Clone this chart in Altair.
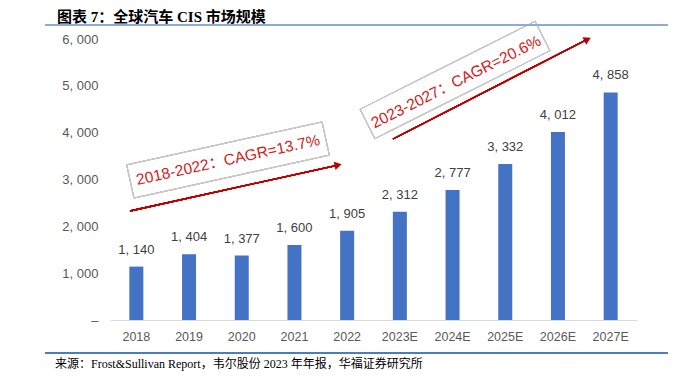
import math
import altair as alt
import pandas as pd

years = ["2018", "2019", "2020", "2021", "2022", "2023E", "2024E", "2025E", "2026E", "2027E"]
values = [1140, 1404, 1377, 1600, 1905, 2312, 2777, 3332, 4012, 4858]
y_ticks = [0, 1000, 2000, 3000, 4000, 5000, 6000]

title_text = "图表 7：全球汽车 CIS 市场规模"
source_text = "来源：Frost&Sullivan Report，韦尔股份 2023 年年报，华福证券研究所"
cagr1 = "2018-2022：CAGR=13.7%"
cagr2 = "2023-2027：CAGR=20.6%"

df = pd.DataFrame({"year": years, "value": values})

W, H = 527, 281
PL, PT = 102, 31
OX, OY = PL + 8, PT + 8  # page position of plot origin
LABEL_FONT = "Liberation Sans, Arial, Noto Sans CJK SC"
SERIF = "Liberation Serif, Noto Sans CJK SC"

base = alt.Chart(df).encode(
    x=alt.X("year:N", sort=years, title=None,
            scale=alt.Scale(paddingInner=0, paddingOuter=0),
            axis=alt.Axis(domain=True, domainColor="#d9d9d9", domainWidth=1, ticks=False,
                          labelAngle=0, labelColor="#595959", labelFontSize=12.5,
                          labelFont=LABEL_FONT, labelPadding=10, grid=False)),
)

bars = base.mark_bar(size=14, color="#4472C4").encode(
    y=alt.Y("value:Q", title=None,
            scale=alt.Scale(domain=[0, 6000], nice=False),
            axis=alt.Axis(values=y_ticks, domain=False, ticks=False, grid=False,
                          labelColor="#595959", labelFontSize=13, labelFont=LABEL_FONT,
                          labelPadding=12,
                          labelExpr="datum.value == 0 ? '–' : replace(format(datum.value, ','), ',', ', ')"))
)

labels = base.transform_calculate(
    lab="replace(format(datum.value, ','), ',', ', ')"
).mark_text(dy=-10, baseline="bottom", fontSize=13, color="#404040", font=LABEL_FONT).encode(
    y=alt.Y("value:Q", scale=alt.Scale(domain=[0, 6000], nice=False)),
    text="lab:N",
)

layers = [bars, labels]


def rule(x1, y1, x2, y2, color, width):
    return alt.Chart(df).mark_rule(color=color, strokeWidth=width).encode(
        x=alt.value(x1), y=alt.value(y1), x2=alt.value(x2), y2=alt.value(y2))


def box(cx, cy, w, h, ang_deg, color="#c8c8c8"):
    a = math.radians(ang_deg)
    ux, uy = math.cos(a), math.sin(a)
    vx, vy = -math.sin(a), math.cos(a)
    pts = []
    for sx, sy in [(-1, -1), (1, -1), (1, 1), (-1, 1)]:
        pts.append((cx + sx * w / 2 * ux + sy * h / 2 * vx, cy + sx * w / 2 * uy + sy * h / 2 * vy))
    out = []
    for i in range(4):
        p, q = pts[i], pts[(i + 1) % 4]
        out.append(rule(p[0], p[1], q[0], q[1], color, 0.8))
    return out


def arrow(x1, y1, x2, y2, color="#c00000"):
    ang = math.atan2(y2 - y1, x2 - x1)
    back = 5
    bx, by = x2 - back * math.cos(ang), y2 - back * math.sin(ang)
    line = rule(x1, y1, bx, by, color, 1.3)
    head = alt.Chart(df).transform_filter("datum.year == '2018'").mark_point(
        shape="triangle-right", filled=True, color=color, opacity=1, size=70,
        angle=(math.degrees(ang)) % 360).encode(x=alt.value(bx), y=alt.value(by))
    return [line, head]


def text_at(x, y, txt, **kw):
    return alt.Chart(df).transform_filter("datum.year == '2018'").mark_text(text=txt, **kw).encode(
        x=alt.value(x), y=alt.value(y))


# annotation 1 (page coords converted to plot coords)
a1 = -12.4
layers += box(228 - OX, 160 - OY, 200, 34, a1)
layers.append(text_at(228 - OX, 160 - OY, cagr1, angle=360 + a1, fontSize=15.5, color="#d02020",
                      font=LABEL_FONT, align="center", baseline="middle"))
layers += arrow(130 - OX, 211 - OY, 343 - OX, 164 - OY)

a2 = -26.7
layers += box(455 - OX, 80 - OY, 196, 33, a2)
layers.append(text_at(456 - OX, 82 - OY, cagr2, angle=360 + a2, fontSize=15.5, color="#d02020",
                      font=LABEL_FONT, align="center", baseline="middle"))
layers += arrow(393 - OX, 139 - OY, 592 - OX, 37 - OY)

# title, separator lines, source
layers.append(text_at(57 - OX, 16.5 - OY, title_text, fontSize=15, fontWeight="bold", color="#000000",
                      font=SERIF, align="left", baseline="middle"))
layers.append(rule(45 - OX, 25 - OY, 668 - OX, 25 - OY, "#8eaadb", 2))
layers.append(rule(45 - OX, 353 - OY, 668 - OX, 353 - OY, "#4a7ebb", 1.5))
layers.append(text_at(55 - OX, 364 - OY, source_text, fontSize=12, color="#000000",
                      font=SERIF, align="left", baseline="middle"))

chart = alt.layer(*layers).properties(
    width=W, height=H,
    autosize=alt.AutoSizeParams(type="none"),
    padding={"left": PL, "top": PT, "right": 676 - 16 - PL - W, "bottom": 381 - 16 - PT - H},
    background="white",
).configure_view(stroke=None)

chart.save("out.html", embed_options={"renderer": "svg", "actions": False})
